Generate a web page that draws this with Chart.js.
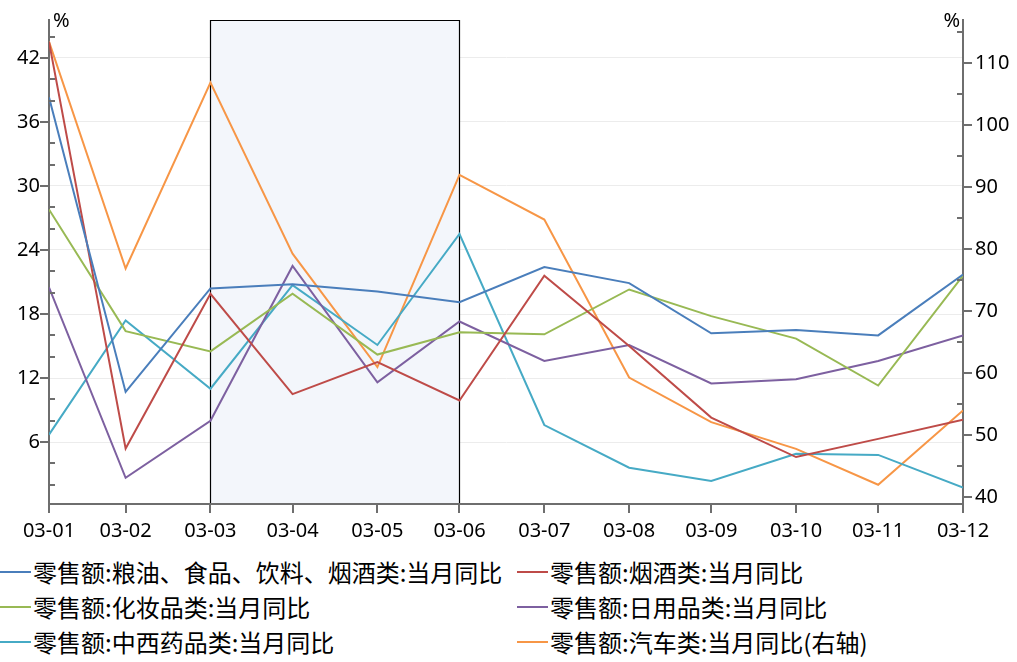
<!DOCTYPE html>
<html><head><meta charset="utf-8">
<script src="https://cdn.jsdelivr.net/npm/chart.js@4.4.1/dist/chart.umd.min.js"></script>
<style>
html,body{margin:0;padding:0;background:#fff;width:1017px;height:662px;overflow:hidden;}
#wrap{position:absolute;left:0;top:0;width:1017px;height:550px;}
#legend{position:absolute;left:0;top:554px;width:1017px;font-family:"Noto Sans CJK SC","Noto Sans";font-size:24px;color:#000;}
.item{position:absolute;height:35px;line-height:35px;white-space:nowrap;}
.item .ln{position:absolute;left:0;top:17px;width:31px;height:2px;}
.item .tx{position:absolute;left:33px;top:0;}
</style></head><body>
<div id="wrap"><canvas id="c" width="1017" height="550"></canvas></div>
<div id="legend"></div>
<script>
// ---- data ----
const categories = ['03-01','03-02','03-03','03-04','03-05','03-06','03-07','03-08','03-09','03-10','03-11','03-12'];
const monthEnds = ['2003-01-31','2003-02-28','2003-03-31','2003-04-30','2003-05-31','2003-06-30','2003-07-31','2003-08-31','2003-09-30','2003-10-31','2003-11-30','2003-12-31'];
const grainOilFood = [38.3, 10.7, 20.4, 20.8, 20.1, 19.1, 22.4, 20.9, 16.2, 16.5, 16.0, 21.7];
const tobaccoLiquor = [43.5, 5.4, 19.9, 10.5, 13.5, 9.9, 21.6, 15.0, 8.3, 4.6, 6.3, 8.1];
const cosmetics = [27.8, 16.4, 14.5, 19.9, 14.2, 16.3, 16.1, 20.3, 17.8, 15.7, 11.3, 21.6];
const dailyUse = [20.5, 2.65, 8.0, 22.5, 11.6, 17.3, 13.6, 15.1, 11.5, 11.9, 13.6, 16.0];
const medicine = [6.7, 17.4, 11.0, 20.7, 15.1, 25.5, 7.6, 3.6, 2.35, 4.9, 4.8, 1.74];
const automobile = [113.5, 76.9, 106.9, 79.3, 61.0, 92.0, 84.8, 59.3, 52.1, 47.8, 42.0, 54.0];
const leftTicks = [2,4,6,8,10,12,14,16,18,20,22,24,26,28,30,32,34,36,38,40,42,44];
const rightTicks = [40,45,50,55,60,65,70,75,80,85,90,95,100,105,110,115];
const seriesNames = ['零售额:粮油、食品、饮料、烟酒类:当月同比','零售额:烟酒类:当月同比','零售额:化妆品类:当月同比','零售额:日用品类:当月同比','零售额:中西药品类:当月同比','零售额:汽车类:当月同比(右轴)'];
const seriesColors = ['#4a7ebb','#be4b48','#98b954','#7d60a0','#46aac5','#f79646'];
const highlightFrom = '03-03', highlightTo = '03-06';

// ---- build ----
const xs = monthEnds.map(d => Date.parse(d + 'T00:00:00Z') / 86400000);
const allSeries = [grainOilFood, tobaccoLiquor, cosmetics, dailyUse, medicine, automobile];
const datasets = allSeries.map((arr, i) => ({
  label: seriesNames[i],
  data: arr.map((v, j) => ({x: xs[j], y: v})),
  borderColor: seriesColors[i],
  backgroundColor: seriesColors[i],
  borderWidth: 2,
  pointRadius: 0,
  tension: 0,
  yAxisID: i === 5 ? 'y1' : 'y'
}));

const tickFont = {family: "'Noto Sans', 'DejaVu Sans', sans-serif", size: 20};
const axisColor = '#6e6e6e';

const decor = {
  id: 'decor',
  beforeDatasetsDraw(chart) {
    const {ctx, chartArea: a} = chart;
    const x = chart.scales.x;
    const x0 = Math.round(x.getPixelForValue(xs[categories.indexOf(highlightFrom)]));
    const x1 = Math.round(x.getPixelForValue(xs[categories.indexOf(highlightTo)]));
    ctx.save();
    ctx.fillStyle = '#f3f6fb';
    ctx.fillRect(x0, a.top, x1 - x0, a.bottom - a.top - 1);
    ctx.strokeStyle = '#000';
    ctx.lineWidth = 1.2;
    ctx.beginPath();
    ctx.moveTo(x0 + 0.5, a.bottom - 1);
    ctx.lineTo(x0 + 0.5, a.top + 0.5);
    ctx.lineTo(x1 + 0.5, a.top + 0.5);
    ctx.lineTo(x1 + 0.5, a.bottom - 1);
    ctx.stroke();
    ctx.restore();
  },
  afterDraw(chart) {
    const {ctx, chartArea: a} = chart;
    const y = chart.scales.y, y1 = chart.scales.y1, x = chart.scales.x;
    ctx.save();
    ctx.strokeStyle = axisColor;
    ctx.lineWidth = 2;
    ctx.beginPath();
    leftTicks.forEach(v => {
      const p = Math.round(y.getPixelForValue(v));
      if (v % 6 === 0) { ctx.moveTo(a.left - 9, p); ctx.lineTo(a.left, p); }
      else { ctx.moveTo(a.left, p); ctx.lineTo(a.left + 6, p); }
    });
    rightTicks.forEach(v => {
      const p = Math.round(y1.getPixelForValue(v));
      if (v % 10 === 0) { ctx.moveTo(a.right, p); ctx.lineTo(a.right + 9, p); }
      else { ctx.moveTo(a.right - 6, p); ctx.lineTo(a.right, p); }
    });
    xs.forEach(v => {
      const p = Math.round(x.getPixelForValue(v));
      ctx.moveTo(p, a.bottom); ctx.lineTo(p, a.bottom + 9);
    });
    ctx.stroke();
    ctx.fillStyle = '#000';
    ctx.font = "20px 'Noto Sans', sans-serif";
    ctx.textBaseline = 'middle';
    ctx.textAlign = 'left';
    ctx.fillText('%', a.left + 4, a.top + 1);
    ctx.textAlign = 'right';
    ctx.fillText('%', a.right - 3, a.top + 1);
    ctx.restore();
  }
};

new Chart(document.getElementById('c'), {
  type: 'line',
  data: {datasets},
  plugins: [decor],
  options: {
    responsive: false,
    animation: false,
    devicePixelRatio: 1,
    layout: {padding: {top: 20, left: 0, right: 0, bottom: 0}},
    plugins: {legend: {display: false}, tooltip: {enabled: false}},
    scales: {
      x: {
        type: 'linear', position: 'bottom',
        min: xs[0], max: xs[xs.length - 1],
        afterBuildTicks: s => { s.ticks = xs.map(v => ({value: v})); },
        afterFit: s => { s.height = 46; },
        ticks: {autoSkip: false, maxRotation: 0, minRotation: 0, padding: 9, color: '#000', font: tickFont,
          callback: (v, i) => categories[i]},
        grid: {drawOnChartArea: false, drawTicks: true, tickLength: 6, tickColor: 'rgba(0,0,0,0)'},
        border: {color: axisColor, width: 2}
      },
      y: {
        type: 'linear', position: 'left',
        min: 0.2, max: 45.55,
        afterBuildTicks: s => { s.ticks = leftTicks.map(v => ({value: v})); },
        afterFit: s => { s.width = 49; },
        ticks: {autoSkip: false, padding: 3, color: '#000', font: tickFont,
          callback: v => (v % 6 === 0 ? String(v) : '')},
        grid: {color: c => (c.tick && c.tick.value % 6 === 0 ? '#ececec' : 'rgba(0,0,0,0)'), lineWidth: 1,
          drawTicks: true, tickLength: 6, tickColor: 'rgba(0,0,0,0)'},
        border: {color: axisColor, width: 2}
      },
      y1: {
        type: 'linear', position: 'right',
        min: 38.9, max: 117,
        afterBuildTicks: s => { s.ticks = rightTicks.map(v => ({value: v})); },
        afterFit: s => { s.width = 54; },
        ticks: {autoSkip: false, padding: 6, color: '#000', font: tickFont,
          callback: v => (v % 10 === 0 ? String(v) : '')},
        grid: {drawOnChartArea: false, drawTicks: true, tickLength: 6, tickColor: 'rgba(0,0,0,0)'},
        border: {color: axisColor, width: 2}
      }
    }
  }
});

// ---- HTML legend (two aligned columns) ----
const legend = document.getElementById('legend');
const colLeft = [0, 517];
seriesNames.forEach((name, i) => {
  const it = document.createElement('div');
  it.className = 'item';
  it.style.left = colLeft[i % 2] + 'px';
  it.style.top = (Math.floor(i / 2) * 35) + 'px';
  const ln = document.createElement('span');
  ln.className = 'ln';
  ln.style.background = seriesColors[i];
  const tx = document.createElement('span');
  tx.className = 'tx';
  tx.textContent = name;
  it.appendChild(ln); it.appendChild(tx);
  legend.appendChild(it);
});
</script>
</body></html>
